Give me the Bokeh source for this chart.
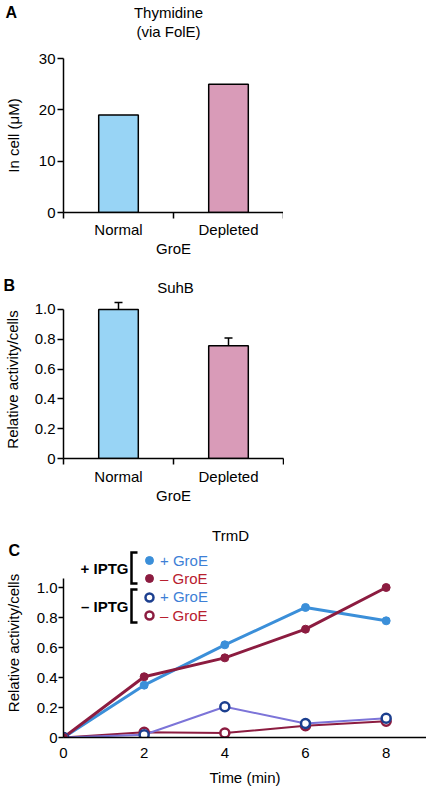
from bokeh.plotting import figure
from bokeh.layouts import column
from bokeh.models import (Range1d, FixedTicker, Label, Whisker, TeeHead,
                          ColumnDataSource, Legend, LegendItem, PolyAnnotation,
                          PrintfTickFormatter)
from bokeh.embed import file_html
from bokeh.resources import INLINE

FONT = "Liberation Sans"
FS = "15px"

# ---------------- data ----------------
groe_categories = ["Normal", "Depleted"]
bar_colors = ["#98d4f5", "#d99bb8"]

# Panel A: thymidine in cell (uM)
thymidine_um = [19.0, 25.0]
yticks_a = [0, 10, 20, 30]

# Panel B: SuhB relative activity
suhb_activity = [1.0, 0.757]
suhb_error = [0.047, 0.052]
yticks_frac = [0, 0.2, 0.4, 0.6, 0.8, 1.0]

# Panel C: TrmD relative activity vs time
time_min = [0, 2, 4, 6, 8]
trmd_plus_iptg_plus_groe = [0.0, 0.349, 0.618, 0.867, 0.778]
trmd_plus_iptg_minus_groe = [0.0, 0.405, 0.531, 0.722, 1.0]
trmd_minus_iptg_plus_groe = [0.0, 0.018, 0.205, 0.093, 0.128]
trmd_minus_iptg_minus_groe = [0.0, 0.035, 0.030, 0.078, 0.108]

BLUE = "#3b8fd9"
MAROON = "#8c1c40"
NAVY = "#1c3f8f"
PURPLE = "#7c74d8"
TXT_BLUE = "#3d7fd6"
TXT_RED = "#b8202f"

LEFT = 62    # shared left border (frames in a column are aligned)
RIGHT = 1


def style_axes(p):
    for ax in p.axis:
        ax.axis_line_width = 1.5
        ax.axis_line_color = "black"
        ax.major_tick_line_width = 1.5
        ax.major_tick_line_color = "black"
        ax.minor_tick_line_width = 1.5
        ax.minor_tick_line_color = "black"
        ax.major_tick_in = 0
        ax.minor_tick_in = 0
        ax.major_label_text_font = FONT
        ax.major_label_text_font_size = FS
        ax.major_label_text_color = "black"
        ax.axis_label_text_font = FONT
        ax.axis_label_text_font_size = FS
        ax.axis_label_text_font_style = "normal"
        ax.axis_label_text_color = "black"
    p.xgrid.visible = False
    p.ygrid.visible = False
    p.outline_line_color = None


def canvas_text(p, text, x, y, side, size=FS, bold=False, align="center", color="black"):
    p.add_layout(Label(x=x, y=y, x_units="canvas", y_units="canvas", text=text,
                       text_font=FONT, text_font_size=size,
                       text_font_style="bold" if bold else "normal",
                       text_baseline="middle", text_align=align, text_color=color), side)


def bar_panel(values, ymax, ybounds, yticks, ylabel, frame_h, top, bottom,
              ylab_standoff, xlab_standoff, xaxis_lab_standoff, yfmt=None):
    n = len(groe_categories)
    xs = [i + 0.5 for i in range(n)]
    src = ColumnDataSource(dict(x=xs, top=values, color=bar_colors))
    p = figure(frame_width=220, frame_height=frame_h, x_range=Range1d(0, n), title=None,
               y_range=Range1d(0, ymax), toolbar_location=None, output_backend="svg",
               min_border_left=LEFT, min_border_top=top,
               min_border_bottom=bottom, min_border_right=RIGHT)
    p.vbar(x="x", top="top", width=0.36, fill_color="color", line_color="black",
           line_width=1.5, source=src)
    style_axes(p)
    # x axis: labels at category centres, tick marks at category boundaries
    p.xaxis.ticker = FixedTicker(ticks=xs, minor_ticks=list(range(n + 1)))
    p.xaxis.major_label_overrides = {x: c for x, c in zip(xs, groe_categories)}
    p.xaxis.major_tick_out = 0
    p.xaxis.minor_tick_out = 6
    p.xaxis.major_label_standoff = xlab_standoff
    p.xaxis.axis_label = "GroE"
    p.xaxis.axis_label_standoff = xaxis_lab_standoff
    # y axis
    p.yaxis.ticker = FixedTicker(ticks=yticks, minor_ticks=[])
    if yfmt:
        p.yaxis.formatter = PrintfTickFormatter(format=yfmt)
    p.yaxis.major_label_overrides = {0: "0"}
    p.yaxis.major_tick_out = 6
    p.yaxis.major_label_standoff = 2
    p.yaxis.axis_label = ylabel
    p.yaxis.axis_label_standoff = ylab_standoff
    p.yaxis.bounds = ybounds
    return p, xs


# ---------------- Panel A ----------------
pA, _ = bar_panel(thymidine_um, 30, (0, 30), yticks_a, "In cell (μM)",
                  154, 58, 48, 14, 2, -1)
canvas_text(pA, "Thymidine", 168, 11.5, "above")
canvas_text(pA, "(via FolE)", 168, 30.5, "above")
canvas_text(pA, "A", 5, 12, "above", size="16px", bold=True, align="left")

# ---------------- Panel B ----------------
pB, xsB = bar_panel(suhb_activity, 1.06, (0, 1.0), yticks_frac, "Relative activity/cells",
                    158, 40, 48, 11, 3, -1, yfmt="%.1f")
canvas_text(pB, "SuhB", 175, 27, "above")
err_src = ColumnDataSource(dict(
    base=xsB,
    lower=[v - e for v, e in zip(suhb_activity, suhb_error)],
    upper=[v + e for v, e in zip(suhb_activity, suhb_error)]))
pB.add_layout(Whisker(base="base", lower="lower", upper="upper", source=err_src,
                      line_width=1.5, line_color="black",
                      upper_head=TeeHead(size=8, line_width=1.5, line_color="black"),
                      lower_head=TeeHead(size=8, line_width=1.5, line_color="black")))
canvas_text(pB, "B", 3, 24.5, "above", size="16px", bold=True, align="left")

# ---------------- Panel C ----------------
pC = figure(frame_width=426 - LEFT - RIGHT, frame_height=189, x_range=Range1d(0, 9),
            title=None, y_range=Range1d(0, 1.26), toolbar_location=None,
            output_backend="svg", min_border_left=LEFT, min_border_top=42,
            min_border_bottom=51, min_border_right=RIGHT)
style_axes(pC)
pC.xaxis.ticker = FixedTicker(ticks=time_min, minor_ticks=[])
pC.xaxis.major_tick_out = 0
pC.xaxis.major_label_standoff = 10
pC.xaxis.axis_label = "Time (min)"
pC.xaxis.axis_label_standoff = 8
pC.yaxis.ticker = FixedTicker(ticks=yticks_frac, minor_ticks=[])
pC.yaxis.formatter = PrintfTickFormatter(format="%.1f")
pC.yaxis.major_label_overrides = {0: "0"}
pC.yaxis.major_tick_out = 5
pC.yaxis.major_label_standoff = 1
pC.yaxis.axis_label = "Relative activity/cells"
pC.yaxis.axis_label_standoff = 12
pC.yaxis.bounds = (0, 1.06)

# -IPTG lines (thin)
pC.line(time_min, trmd_minus_iptg_minus_groe, line_color=MAROON, line_width=2)
pC.line(time_min, trmd_minus_iptg_plus_groe, line_color=PURPLE, line_width=2)
# +IPTG lines (thick)
pC.line(time_min, trmd_plus_iptg_plus_groe, line_color=BLUE, line_width=3)
pC.line(time_min, trmd_plus_iptg_minus_groe, line_color=MAROON, line_width=3)
# markers
r_mm = pC.scatter(time_min, trmd_minus_iptg_minus_groe, size=9, fill_color="white",
                  line_color=MAROON, line_width=2.5)
r_mp = pC.scatter(time_min, trmd_minus_iptg_plus_groe, size=9, fill_color="white",
                  line_color=NAVY, line_width=2.5)
r_pp = pC.scatter(time_min, trmd_plus_iptg_plus_groe, size=8, fill_color=BLUE,
                  line_color=BLUE, line_width=1)
r_pm = pC.scatter(time_min, trmd_plus_iptg_minus_groe, size=8, fill_color=MAROON,
                  line_color=MAROON, line_width=1)

# legend: one single-item legend per row (labels are coloured individually)
legend_rows = [(r_pp, "+ GroE", TXT_BLUE, 177), (r_pm, "– GroE", TXT_RED, 159),
               (r_mp, "+ GroE", TXT_BLUE, 140.5), (r_mm, "– GroE", TXT_RED, 122)]
for r, lab, col, yc in legend_rows:
    pC.add_layout(Legend(items=[LegendItem(label=lab, renderers=[r])],
                         location=(148 - LEFT - 10, yc - 10), glyph_width=20,
                         glyph_height=20, label_height=20, label_standoff=1, padding=0,
                         margin=0, spacing=0, border_line_color=None,
                         background_fill_alpha=0, label_text_color=col,
                         label_text_font=FONT, label_text_font_size=FS))
canvas_text(pC, "+ IPTG", 128, 62, "center", bold=True, align="right")
canvas_text(pC, "– IPTG", 128, 100, "center", bold=True, align="right")
for top, bot in [(46, 77), (83, 116)]:
    pC.add_layout(PolyAnnotation(xs=[137, 131, 131, 137, 131, 131],
                                 ys=[top, top, bot, bot, bot, top],
                                 xs_units="canvas", ys_units="canvas",
                                 fill_alpha=0, line_color="black", line_alpha=1,
                                 line_width=2.5, line_join="miter"))
canvas_text(pC, "TrmD", 230, 29, "above")
canvas_text(pC, "C", 8, 44, "above", size="16px", bold=True, align="left")

layout = column(pA, pB, pC, spacing=0)
open("out.html", "w").write(file_html(layout, INLINE))
